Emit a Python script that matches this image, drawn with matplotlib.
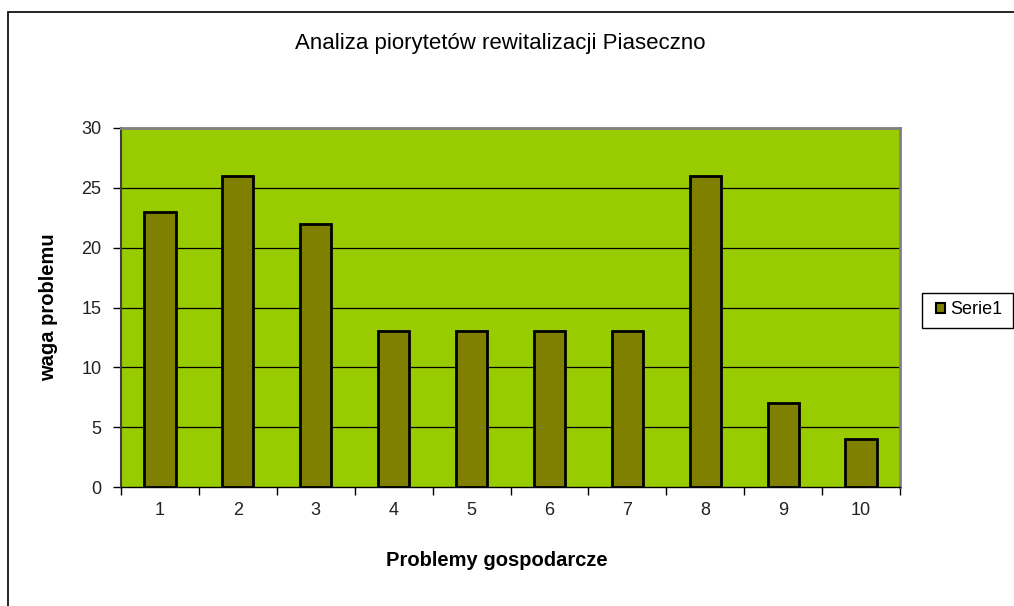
import matplotlib.pyplot as plt
from matplotlib.patches import Rectangle

categories = ['1', '2', '3', '4', '5', '6', '7', '8', '9', '10']
values = [23, 26, 22, 13, 13, 13, 13, 26, 7, 4]
y_ticks = [0, 5, 10, 15, 20, 25, 30]

plt.rcParams['font.family'] = ['Liberation Sans', 'DejaVu Sans']

W, H = 1014, 606
fig = plt.figure(figsize=(W / 100, H / 100), dpi=100)
fig.patch.set_facecolor('white')

# outer chart frame (clipped by image at right/bottom)
fig.patches.append(Rectangle((8 / W, -0.1), 1.2, 1 - 12 / H + 0.1,
                             transform=fig.transFigure, fill=False,
                             edgecolor='black', linewidth=1.2))

ax = fig.add_axes([121 / W, 1 - 487 / H, (900 - 121) / W, (487 - 128) / H])
ax.set_facecolor('#99CC00')

x = list(range(len(categories)))
ax.bar(x, values, width=0.4, color='#808000', edgecolor='black', linewidth=2, zorder=3)

ax.set_xlim(-0.5, len(categories) - 0.5)
ax.set_ylim(0, 30)
ax.set_yticks(y_ticks)
ax.set_xticks(x)
ax.set_xticklabels(categories)
ax.tick_params(axis='x', length=0, pad=11, labelsize=13, colors='#222222')
ax.set_xticks([i - 0.5 for i in range(len(categories) + 1)], minor=True)
ax.tick_params(axis='x', which='minor', length=6, width=1, color='black')
ax.tick_params(axis='y', length=6, width=1, pad=8, labelsize=13, colors='#222222')
ax.tick_params(axis='y', color='black')

for yv in y_ticks[1:-1]:
    ax.axhline(yv, color='black', linewidth=0.9, zorder=1)

ax.spines['top'].set_color('#808080')
ax.spines['right'].set_color('#808080')
ax.spines['top'].set_linewidth(2)
ax.spines['right'].set_linewidth(2)
ax.spines['left'].set_color('#404040')
ax.spines['left'].set_linewidth(1.5)
ax.spines['bottom'].set_color('black')
ax.spines['bottom'].set_linewidth(1)

fig.text(500 / W, 1 - 44 / H, 'Analiza piorytetów rewitalizacji Piaseczno',
         ha='center', va='center', fontsize=16)
fig.text(497 / W, 1 - 560 / H, 'Problemy gospodarcze',
         ha='center', va='center', fontsize=14.5, fontweight='bold')
fig.text(49 / W, 1 - 307 / H, 'waga problemu', rotation=90,
         ha='center', va='center', fontsize=14.5, fontweight='bold')

# legend frame drawn separately so the inner padding can match
fig.patches.append(Rectangle((922 / W, 1 - 328 / H), 91 / W, 35 / H,
                             transform=fig.transFigure, fill=True, facecolor='white',
                             edgecolor='black', linewidth=1))
handle = Rectangle((0, 0), 1, 1, facecolor='#808000', edgecolor='black', linewidth=1.5)
leg = fig.legend([handle], ['Serie1'], loc='center left',
                 bbox_to_anchor=(936 / W, 1 - 310 / H),
                 frameon=False, fontsize=13, handlelength=0.5, handleheight=0.5,
                 handletextpad=0.3, borderpad=0, borderaxespad=0)

fig.savefig('out.png', dpi=100)
